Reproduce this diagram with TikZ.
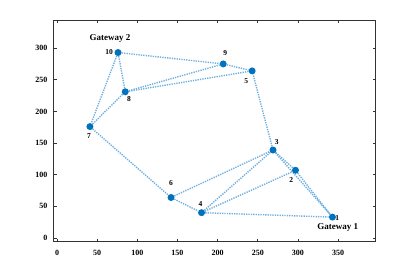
\documentclass[tikz,border=0pt]{standalone}
\usepackage{fontspec}
\setmainfont{Liberation Serif}
\usetikzlibrary{backgrounds}
\definecolor{mblue}{RGB}{0,114,189}
\definecolor{linkblue}{RGB}{110,175,225}

\begin{document}
\begin{tikzpicture}[x=1pt, y=1pt,
	every node/.style={font=\fontsize{8}{9}\selectfont\bfseries},
	sensor/.style={circle, fill=mblue, inner sep=0pt, minimum size=7pt},
	link/.style={linkblue, line width=1.4pt, dash pattern=on 1.3pt off 1.1pt},
	axtick/.style={line width=0.6pt, black!80},
	lbl/.style={inner sep=0pt, font=\fontsize{7.5}{8}\selectfont\bfseries},
	gw/.style={inner sep=0pt, font=\fontsize{9}{10}\selectfont\bfseries}]
	\useasboundingbox (0,0) rectangle (415,272);
	\begin{scope}[shift={(57pt,34pt)}, x=0.803pt, y=0.633pt]
		% axes box and ticks
		\draw[line width=0.7pt, black!80] (-4,-6) rectangle (397,344);
		\foreach \v in {0,50,...,350} {
			\draw[axtick] (\v,-6) -- ++(0,3pt);
			\draw[axtick] (\v,344) -- ++(0,-3pt);
			\node[anchor=north] (xl\v) at (\v,-6) [yshift=-4.5pt] {\v};
		}
		\foreach \v in {0,50,...,300} {
			\draw[axtick] (-4,\v) -- ++(3pt,0);
			\draw[axtick] (397,\v) -- ++(-3pt,0);
			\node[anchor=east] (yl\v) at (-4,\v) [xshift=-3pt] {\v};
		}
		% sensor nodes
		\foreach \n/\px/\py in {1/343/33, 2/297/107, 3/269/139, 4/180/40, 5/243/264,
			6/142/64, 7/41/176, 8/85/231, 9/207/275, 10/76/293}
			\node[sensor] (n\n) at (\px,\py) {};
		% links
		\begin{scope}[on background layer]
			\foreach \a/\b in {10/9, 9/5, 10/8, 10/7, 8/9, 8/5, 8/7, 7/6, 6/4, 6/3,
				4/3, 4/2, 4/1, 3/5, 3/2, 3/1, 2/1}
				\draw[link] (n\a) -- (n\b);
		\end{scope}
		% labels
		\foreach \n/\dx/\dy in {1/4.8/-0.7, 2/-4.3/-10, 3/3.7/8, 4/-1/8.7, 5/-6/-10,
			6/0/14.3, 7/-1/-9.3, 8/3.7/-7.3, 9/2/11, 10/-9/0.7}
			\node[lbl] (l\n) at ([shift={(\dx pt,\dy pt)}]n\n.center) {\n};
		\node[gw] (gw1) at ([shift={(5.3pt,-10.7pt)}]n1.center) {Gateway 1};
		\node[gw] (gw2) at ([shift={(-8pt,13.7pt)}]n10.center) {Gateway 2};
	\end{scope}
\end{tikzpicture}
\end{document}
